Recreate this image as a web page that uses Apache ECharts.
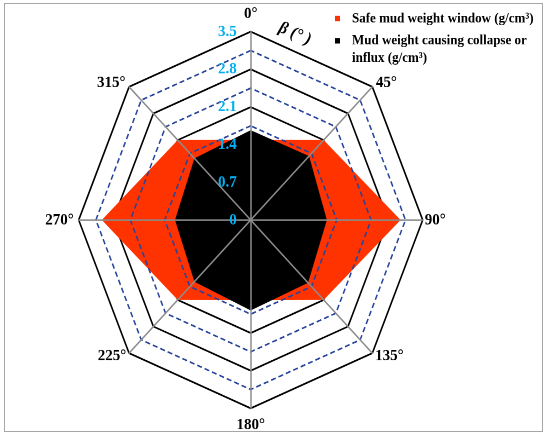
<!DOCTYPE html>
<html><head><meta charset="utf-8">
<script src="https://cdn.jsdelivr.net/npm/echarts@6/dist/echarts.min.js"></script>
<style>
html,body{margin:0;padding:0;background:#fff;width:550px;height:437px;overflow:hidden;}
#frame{position:absolute;left:4px;top:3px;width:537px;height:427px;border:1.5px solid #a6a6a6;}
#chart{position:absolute;left:0;top:0;width:550px;height:399px;transform:scaleY(1.095);transform-origin:0 0;}
</style></head><body>
<div id="frame"></div>
<div id="chart"></div>
<script>
// ---- data ----
const angleLabels = ['0°', '45°', '90°', '135°', '180°', '225°', '270°', '315°'];
const safeWindow = [1.49, 2.1, 3.05, 2.1, 1.49, 2.1, 3.03, 2.1];
const collapseInflux = [1.67, 1.68, 1.55, 1.65, 1.68, 1.62, 1.54, 1.62];
const radialTicks = [0, 0.7, 1.4, 2.1, 2.8, 3.5];
const seriesNames = ['Safe mud weight window (g/cm³)', 'Mud weight causing collapse or\ninflux (g/cm³)'];
const axisTitle = 'β (° )';

// ---- layout / style ----
const FONT = '"Liberation Serif", "Times New Roman", serif';
const order = [0, 7, 6, 5, 4, 3, 2, 1]; // ECharts radar runs counter-clockwise
const nameGaps = [9, 5, 2, 4, 7.5, 4, 5, 5];
const rMax = radialTicks[radialTicks.length - 1];
const center = [250.7, 200.9];
const radius = 172;

const dashColors = [];
for (let i = 0; i < 10; i++) dashColors.push(i >= 5 && i % 2 === 1 ? '#26449a' : 'rgba(0,0,0,0)');

// square icon placed at the top of a tall box so it sits beside the first text line
const topSquareIcon = 'path://M0,0L0.001,0L0.001,0.001Z M0,5.5L5,5.5L5,10.5L0,10.5Z M0,32L0.001,32L0.001,31.999Z';

const legendText = { fontFamily: FONT, fontWeight: 'bold', fontSize: 13, color: '#000', lineHeight: 16, padding: [0, 0, 0, 7] };

const chart = echarts.init(document.getElementById('chart'), null, { renderer: 'canvas', devicePixelRatio: 2 });
chart.setOption({
  animation: false,
  legend: [
    {
      data: [{ name: seriesNames[0] }],
      left: 335, top: 8.9, padding: 0, orient: 'vertical',
      icon: 'rect', itemWidth: 5, itemHeight: 5,
      textStyle: legendText
    },
    {
      data: [{ name: seriesNames[1], icon: topSquareIcon }],
      left: 335, top: 29.3, padding: 0, orient: 'vertical',
      itemWidth: 5, itemHeight: 32,
      textStyle: legendText
    }
  ],
  graphic: [{
    type: 'text', x: 295, y: 31, rotation: -0.38, z: 10,
    style: { text: axisTitle, font: 'italic bold 16px "Liberation Serif", serif', fill: '#000', align: 'center', verticalAlign: 'middle' }
  }],
  radar: [
    {
      center: center, radius: radius, shape: 'polygon', splitNumber: 5, z: 0,
      indicator: order.map(i => ({ name: angleLabels[i], min: 0, max: rMax })),
      axisName: { show: false },
      axisLine: { show: false },
      axisTick: { show: false },
      axisLabel: { show: false },
      splitArea: { show: false },
      splitLine: { lineStyle: { color: '#000', width: 1.6 } }
    },
    {
      center: center, radius: radius, shape: 'polygon', splitNumber: 10, z: 5,
      indicator: order.map((i, k) => {
        const o = { name: angleLabels[i], min: 0, max: rMax, nameGap: nameGaps[i] };
        if (k === 0) o.axisLabel = { show: true };
        return o;
      }),
      axisName: { show: true, color: '#000', fontFamily: FONT, fontWeight: 'bold', fontSize: 15 },
      axisLine: { show: true, lineStyle: { color: '#8c8c8c', width: 1.5 } },
      axisTick: { show: false },
      axisLabel: {
        show: false, color: '#00b0f0', fontFamily: FONT, fontWeight: 'bold', fontSize: 15, margin: 14,
        formatter: v => radialTicks.some(t => Math.abs(t - v) < 1e-6) ? String(v) : ''
      },
      splitArea: { show: false },
      splitLine: { lineStyle: { color: dashColors, width: 1.5, type: [5, 3] } }
    }
  ],
  series: [{
    type: 'radar', radarIndex: 0, z: 2, symbol: 'none',
    lineStyle: { width: 0 },
    data: [
      { name: seriesNames[0], value: order.map(i => safeWindow[i]),
        itemStyle: { color: '#ff3300' }, areaStyle: { color: '#ff3300', opacity: 1 } },
      { name: seriesNames[1], value: order.map(i => collapseInflux[i]),
        itemStyle: { color: '#000' }, areaStyle: { color: '#000', opacity: 1 } }
    ]
  }]
});
</script>
</body></html>
